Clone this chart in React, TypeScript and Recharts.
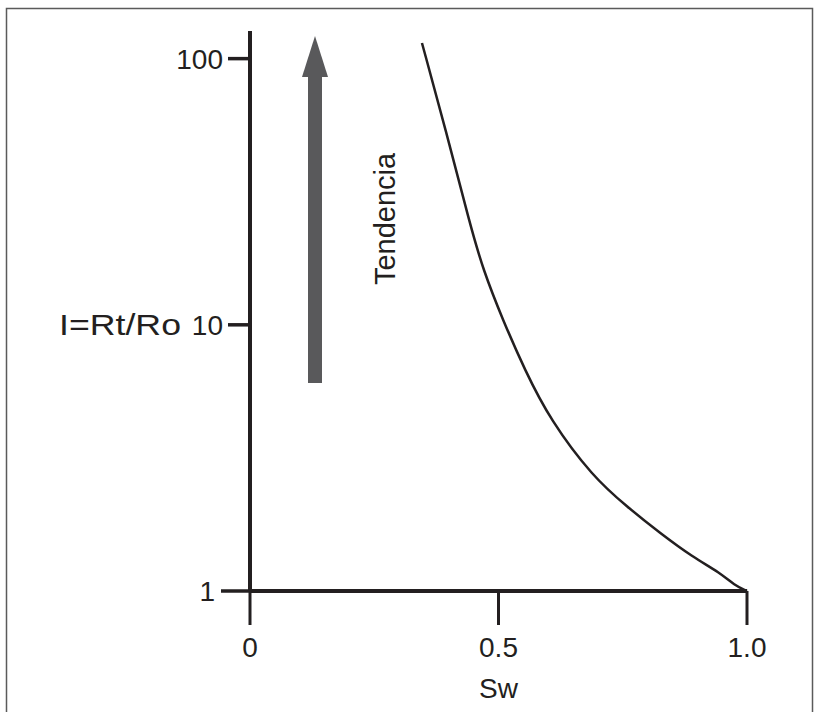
import React from 'react';
import { LineChart, Line, XAxis, YAxis } from 'recharts';

// Resistivity index vs. water saturation (log scale on I)
const SW = [0.346, 0.394, 0.443, 0.469, 0.509, 0.553, 0.604, 0.69, 0.759, 0.825, 0.891, 0.946, 0.975, 1.0];
const RI = [114.5, 53.9, 23.7, 16.1, 10.4, 6.76, 4.39, 2.68, 2.07, 1.65, 1.34, 1.17, 1.05, 1.0];

const X_TICKS = [0, 0.5, 1];
const X_TICK_LABELS = ['0', '0.5', '1.0'];
const Y_TICKS = [1, 10, 100];
const Y_TICK_LABELS = ['1', '10', '100'];

const data = SW.map((sw, i) => ({ sw, ri: RI[i] }));

const FONT = "'Liberation Sans', Arial, Helvetica, sans-serif";
const INK = '#231f20';

const YTick = (props: any) => {
  const { x, y, payload } = props;
  const idx = Y_TICKS.indexOf(payload.value);
  const isBase = payload.value === 1;
  return (
    <g>
      <line x1={x - (isBase ? 29 : 22)} x2={x} y1={y} y2={y} stroke={INK} strokeWidth={3.5} />
      <text x={isBase ? x - 35 : x - 27} y={y + 10} textAnchor="end" fontSize={28} fontFamily={FONT} fill={INK}>
        {Y_TICK_LABELS[idx]}
      </text>
      {payload.value === 10 && (
        <text
          x={x - 191}
          y={y + 10}
          textAnchor="start"
          fontSize={29}
          fontFamily={FONT}
          fill={INK}
          textLength={122}
          lengthAdjust="spacingAndGlyphs"
        >
          I=Rt/Ro
        </text>
      )}
    </g>
  );
};

const XTick = (props: any) => {
  const { x, y, payload } = props;
  const idx = X_TICKS.indexOf(payload.value);
  return (
    <g>
      <line x1={x} x2={x} y1={y} y2={y + 34} stroke={INK} strokeWidth={3} />
      <text x={x} y={y + 66} textAnchor="middle" fontSize={28} fontFamily={FONT} fill={INK}>
        {X_TICK_LABELS[idx]}
      </text>
    </g>
  );
};

export default function App() {
  return (
    <div style={{ position: 'absolute', left: 0, top: 0, width: 818, height: 712, background: '#fff', overflow: 'hidden' }}>
      <LineChart width={818} height={712} data={data} margin={{ top: 31, right: 71, left: 0, bottom: 0 }}>
        <XAxis
          type="number"
          dataKey="sw"
          domain={[0, 1]}
          ticks={X_TICKS}
          height={121}
          tickSize={0}
          tickMargin={0}
          tickLine={false}
          tick={XTick}
          axisLine={{ stroke: INK, strokeWidth: 4 }}
          label={{ value: 'Sw', position: 'insideBottom', offset: 14, fontSize: 28, fontFamily: FONT, fill: INK }}
        />
        <YAxis
          type="number"
          dataKey="ri"
          scale="log"
          domain={[1, 127]}
          ticks={Y_TICKS}
          width={250}
          tickSize={0}
          tickMargin={0}
          tickLine={false}
          tick={YTick}
          axisLine={{ stroke: INK, strokeWidth: 4 }}
        />
        <Line type="basis" dataKey="ri" stroke={INK} strokeWidth={2.5} dot={false} isAnimationActive={false} />
      </LineChart>
      <svg width={818} height={712} style={{ position: 'absolute', left: 0, top: 0, pointerEvents: 'none' }}>
        <rect x={6.5} y={8.5} width={806} height={720} fill="none" stroke="#5a5a5a" strokeWidth={1.5} />
        {/* trend arrow */}
        <rect x={308} y={76} width={14} height={307} fill="#59595b" />
        <polygon points="302,77 328,77 315,36" fill="#59595b" />
        <text
          transform="translate(395,219) rotate(-90)"
          textAnchor="middle"
          fontSize={29}
          fontFamily={FONT}
          fill={INK}
        >
          Tendencia
        </text>
      </svg>
    </div>
  );
}
